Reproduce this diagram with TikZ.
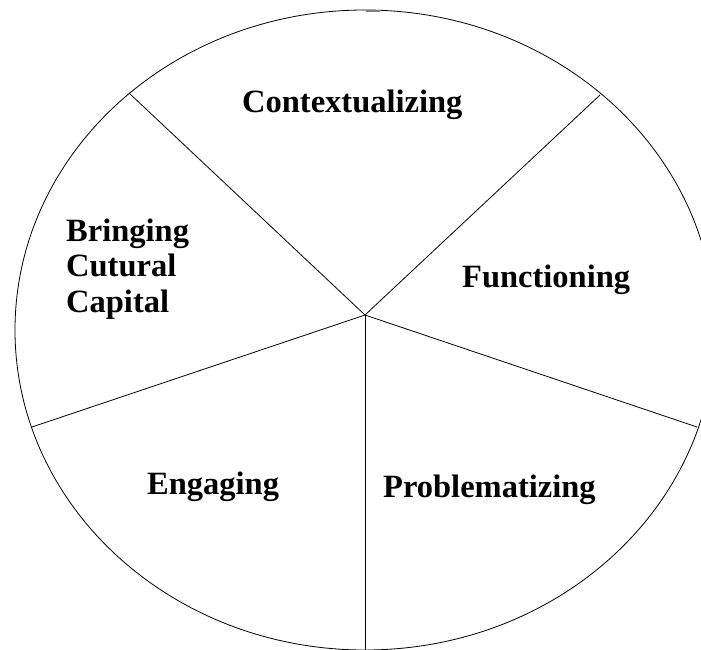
\documentclass[tikz,border=0pt]{standalone}
\usepackage{fontspec}
\setmainfont{Liberation Serif}
\usepackage{tikz}
\usetikzlibrary{positioning,calc}

\begin{document}
\begin{tikzpicture}[
    x=1pt, y=-1pt,
    rim/.style={draw, line width=0.8pt},
    spoke/.style={line width=0.8pt},
    label/.style={font=\fontsize{32.5}{35.5}\selectfont\bfseries, inner sep=0pt, anchor=base west, align=left}
]
    \useasboundingbox (0,0) rectangle (701,650);
    \clip (0,0) rectangle (701,650);

    % Wheel
    \path[rim] (365,330) ellipse [x radius=350pt, y radius=320pt];
    \draw[gray, line width=1.5pt] (366,11) -- (380,11);

    % Hub and rim points
    \coordinate (hub) at (365,315);
    \coordinate (ul) at (129,93);
    \coordinate (ur) at (600,95);
    \coordinate (ll) at (32,427);
    \coordinate (lr) at (697,427);
    \coordinate (bt) at (365,651);

    % Spokes
    \draw[spoke] (hub) -- (ul);
    \draw[spoke] (hub) -- (ur);
    \draw[spoke] (hub) -- (ll);
    \draw[spoke] (hub) -- (lr);
    \draw[spoke] (hub) -- (bt);

    % Labels
    \node[label] (context) at (242,113) {Contextualizing};
    \node[label] (capital) at (66,312) {Bringing\\Cutural\\Capital};
    \node[label] (function) at (462,287) {Functioning};
    \node[label] (engage) at (147,494) {Engaging};
    \node[label] (problem) at (383,497) {Problematizing};
\end{tikzpicture}
\end{document}
